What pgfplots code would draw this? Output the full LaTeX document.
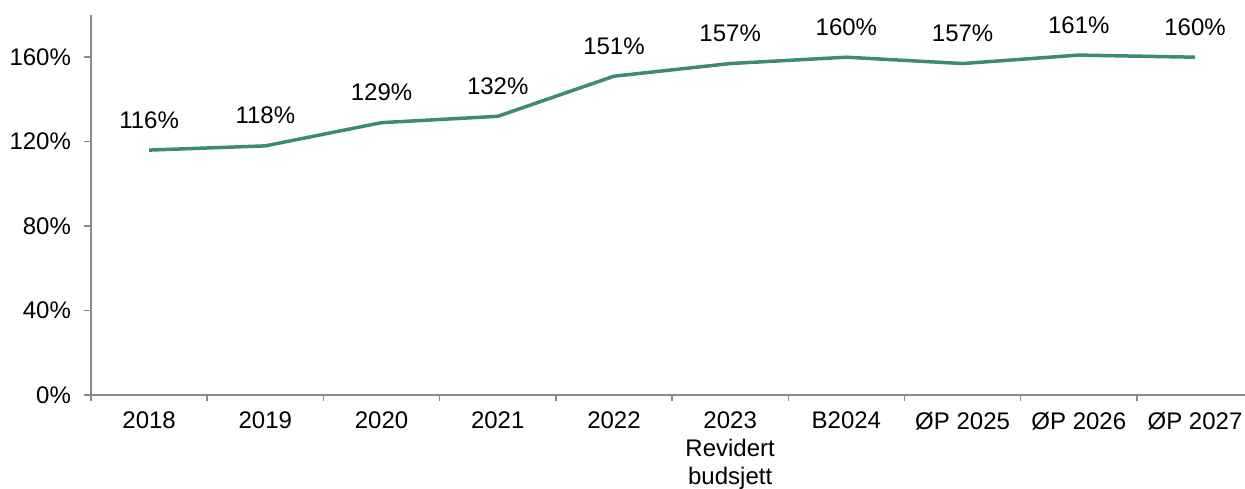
\documentclass[border=0pt]{standalone}
\usepackage{fontspec}
\setmainfont{Liberation Sans}
\usepackage{pgfplots}
\pgfplotsset{compat=1.18}
\definecolor{linegreen}{HTML}{3D8B73}
\definecolor{axgray}{HTML}{898989}
\begin{document}
\begin{tikzpicture}
\begin{axis}[
  scale only axis,
  width=577pt, height=190pt,
  xmin=-0.5, xmax=9.43,
  ymin=0, ymax=180,
  axis x line*=bottom, axis y line*=left,
  axis line style={draw=axgray, line width=0.75pt, -},
  tick align=outside,
  major tick length=3.5pt,
  minor tick length=3pt,
  tick style={draw=axgray, line width=0.75pt},
  xtick={0,...,9},
  major x tick style={draw=none},
  minor xtick={-0.5,0.5,...,8.5},
  xticklabels={2018,2019,2020,2021,2022,{2023\\Revidert\\budsjett},B2024,ØP 2025,ØP 2026,ØP 2027},
  xticklabel style={align=center, font=\fontsize{12}{13.8}\selectfont, yshift=-1.5pt, anchor=north},
  ytick={0,40,80,120,160},
  yticklabel={\pgfmathprintnumber{\tick}\%},
  yticklabel style={font=\fontsize{12}{13.8}\selectfont, xshift=-3pt},
  /pgf/number format/assume math mode=true,
  nodes near coords={\pgfmathprintnumber{\pgfplotspointmeta}\%},
  nodes near coords style={font=\fontsize{12}{13.8}\selectfont, anchor=base, yshift=11pt, text=black},
  clip=false,
]
\addplot[color=linegreen, line width=1.75pt, mark=none] coordinates {
(0,116) (1,118) (2,129) (3,132) (4,151) (5,157) (6,160) (7,157) (8,161) (9,160)
};
\end{axis}
\pgfresetboundingbox
\path ([shift={(-45.5pt,-47pt)}]current axis.south west) rectangle ([shift={(0pt,7.5pt)}]current axis.north east);
\end{tikzpicture}
\end{document}
